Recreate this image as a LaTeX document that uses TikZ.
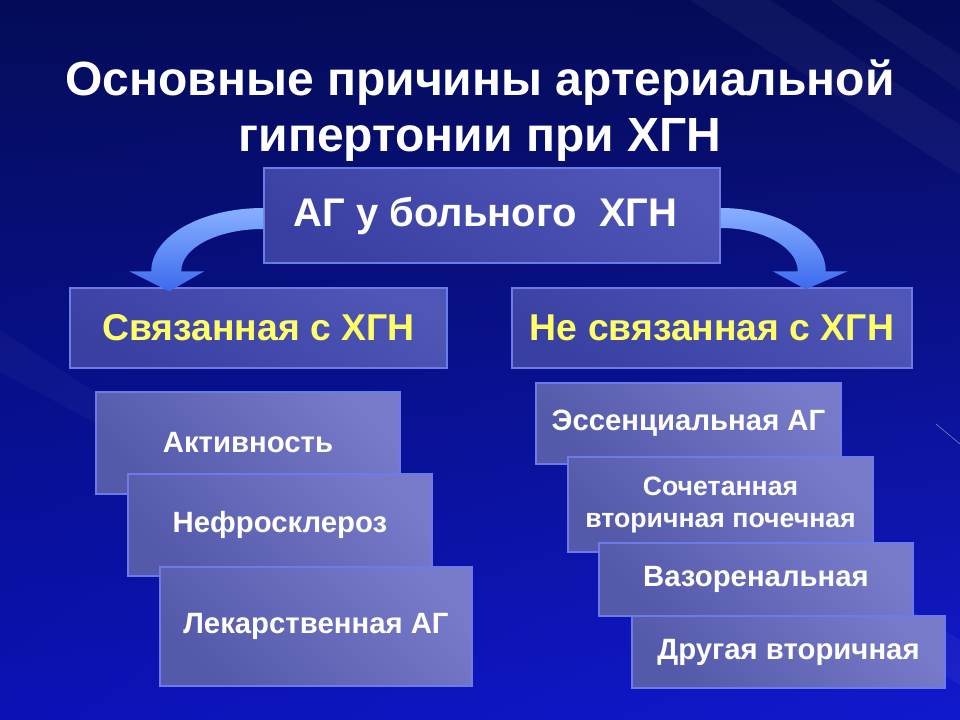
\documentclass[tikz,border=0pt]{standalone}
\usepackage{fontspec}
\setmainfont{Liberation Sans}
\usetikzlibrary{calc,shadings}

\definecolor{bgul}{HTML}{040C58}
\definecolor{bgur}{HTML}{050B56}
\definecolor{bgll}{HTML}{0A12B6}
\definecolor{bglr}{HTML}{1119CE}
\definecolor{boxline}{HTML}{6C7CE6}
\definecolor{headdark}{HTML}{3A40A2}
\definecolor{headlight}{HTML}{5056B6}
\definecolor{boxdark}{HTML}{5559AA}
\definecolor{boxlight}{HTML}{767AC8}
\definecolor{arrowtop}{HTML}{88B0FF}
\definecolor{arrowbot}{HTML}{3C6AEE}
\definecolor{capyellow}{HTML}{FFFF66}

\tikzset{
  wh/.style 2 args={minimum width=#1*0.75pt, minimum height=#2*0.75pt},
  box/.style={draw=boxline, line width=1.1pt, top color=boxlight, bottom color=boxdark,
    shading angle=-45, text=white, align=center, inner sep=0pt,
    font=\bfseries\fontsize{22}{25}\selectfont},
  smallbox/.style={box, font=\bfseries\fontsize{20}{24}\selectfont},
  headbox/.style={box, top color=headlight, bottom color=headdark, shading angle=-30,
    font=\bfseries\fontsize{28}{32}\selectfont},
  capbox/.style={headbox, text=capyellow},
  titletext/.style={text=white, anchor=base, inner sep=0pt,
    font=\bfseries\fontsize{36}{41}\selectfont},
  bluearrow/.style={top color=arrowtop, bottom color=arrowbot},
}

\begin{document}
\begin{tikzpicture}[x=0.75pt, y=-0.75pt]
% background
\useasboundingbox (0,0) rectangle (960,720);
\shade[upper left=bgul, upper right=bgur, lower left=bgll, lower right=bglr] (0,0) rectangle (960,720);
\fill[white, opacity=0.04] (690,0) -- (770,0) -- (960,125) -- (960,175) -- cycle;
\fill[white, opacity=0.04] (830,0) -- (875,0) -- (960,55) -- (960,90) -- cycle;
\fill[white, opacity=0.03] (0,330) -- (0,372) -- (150,452) -- (150,428) -- cycle;
\fill[white, opacity=0.04] (830,560) -- (960,640) -- (960,685) -- (810,592) -- cycle;
\draw[white, opacity=0.5, line width=0.4pt] (936,424) -- (960,444);

% title
\node[titletext] (title1) at (480,96) {Основные причины артериальной};
\node[titletext] (title2) at (480,152) {гипертонии при ХГН};

% main boxes
\node[headbox, wh={456}{95}, font=\bfseries\fontsize{30}{34}\selectfont] (top) at (492,215.5)
  {АГ у больного~~ХГН\hspace*{10pt}};
\node[capbox, wh={377}{80}] (rel) at (258.5,328) {Связанная с ХГН};
\node[capbox, wh={400}{80}] (unrel) at (712,328) {Не связанная с ХГН};

% curved arrows
\coordinate (l1) at ($(top.west)+(0,-7.5)$);
\coordinate (l2) at ($(top.west)+(0,13.5)$);
\coordinate (ltip) at ($(rel.north west)+(100,4)$);
\shade[bluearrow] (l1) .. controls +(-62,0) and +(0,-35) .. ($(ltip)+(-18,-20)$)
  -- ($(ltip)+(-40,-20)$) -- (ltip) -- ($(ltip)+(35,-20)$) -- ($(ltip)+(12,-20)$)
  .. controls +(0,-24) and +(-45,0) .. (l2) -- cycle;

\coordinate (r1) at ($(top.east)+(0,-7.5)$);
\coordinate (r2) at ($(top.east)+(0,12.5)$);
\coordinate (rtip) at ($(unrel.north east)+(-107,2)$);
\shade[bluearrow] (r1) .. controls +(58,0) and +(0,-35) .. ($(rtip)+(20,-18)$)
  -- ($(rtip)+(42,-18)$) -- (rtip) -- ($(rtip)+(-33,-18)$) -- ($(rtip)+(-8,-18)$)
  .. controls +(0,-24) and +(42,0) .. (r2) -- cycle;

% left stack
\node[box, wh={304}{102}] (act) at (248,443) {Активность};
\node[box, wh={304}{102}] (nephro) at (280,525) {Нефросклероз};
\node[box, wh={312}{119}] (drug) at (316,626.5) {Лекарственная АГ};

% right stack
\node[box, wh={305}{81}] (ess) at (688.5,423.5) {Эссенциальная АГ};
\node[smallbox, wh={305}{95}] (comb) at (720.5,504.5) {Сочетанная\\вторичная почечная};
\node[box, wh={314}{73}] (vaso) at (756,579.5) {Вазоренальная};
\node[box, wh={313}{72}] (other) at (788.5,652) {Другая вторичная};
\end{tikzpicture}
\end{document}
